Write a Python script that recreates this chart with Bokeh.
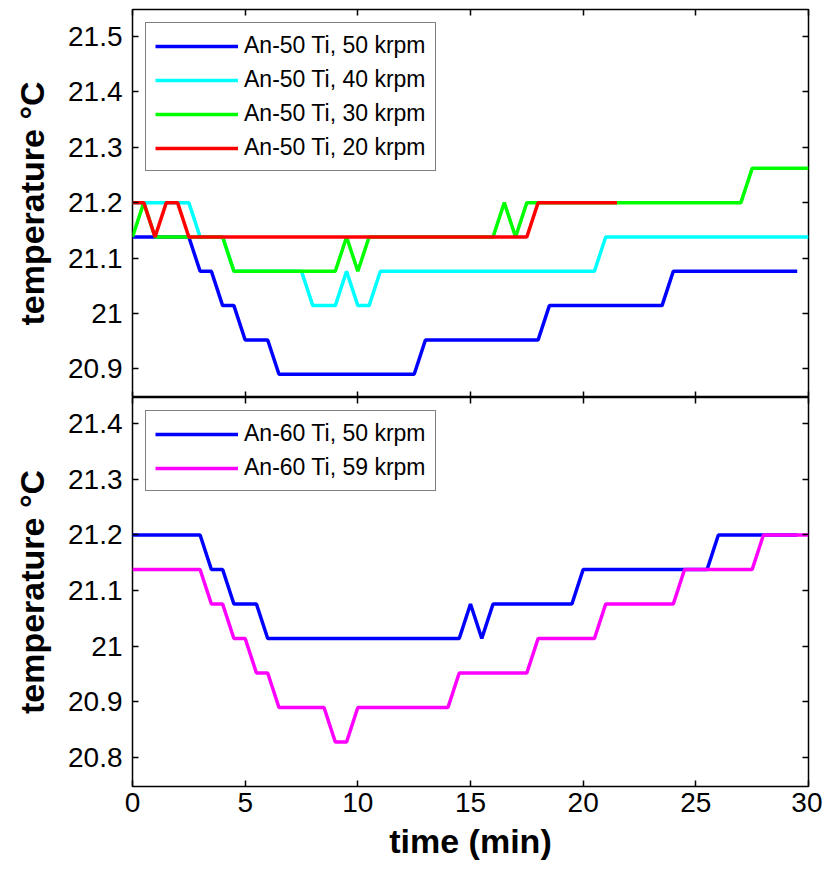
from bokeh.plotting import figure
from bokeh.layouts import column
from bokeh.models import (Range1d, LinearAxis, FixedTicker, CustomJSTickFormatter,
                          Legend, LegendItem)
from bokeh.embed import file_html
from bokeh.resources import INLINE

# ---------------- data ----------------
# top panel: An-50 Ti
an50_50k_t = [0, 2.5, 3, 3.5, 4, 4.5, 5, 6, 6.5, 12.5, 13, 18, 18.5, 23.5, 24, 29.5]
an50_50k_T = [21.138, 21.138, 21.076, 21.076, 21.014, 21.014, 20.952, 20.952, 20.89,
              20.89, 20.952, 20.952, 21.014, 21.014, 21.076, 21.076]

an50_40k_t = [0, 2.5, 3, 4, 4.5, 7.5, 8, 9, 9.5, 10, 10.5, 11, 20.5, 21, 30]
an50_40k_T = [21.2, 21.2, 21.138, 21.138, 21.076, 21.076, 21.014, 21.014, 21.076,
              21.014, 21.014, 21.076, 21.076, 21.138, 21.138]

an50_30k_t = [0, 0.5, 1, 4, 4.5, 9, 9.5, 10, 10.5, 16, 16.5, 17, 17.5, 27, 27.5, 30]
an50_30k_T = [21.138, 21.2, 21.138, 21.138, 21.076, 21.076, 21.138, 21.076, 21.138,
              21.138, 21.2, 21.138, 21.2, 21.2, 21.262, 21.262]

an50_20k_t = [0, 0.5, 1, 1.5, 2, 2.5, 17.5, 18, 21.5]
an50_20k_T = [21.2, 21.2, 21.138, 21.2, 21.2, 21.138, 21.138, 21.2, 21.2]

# bottom panel: An-60 Ti
an60_50k_t = [0, 3, 3.5, 4, 4.5, 5.5, 6, 14.5, 15, 15.5, 16, 19.5, 20, 25.5, 26, 29.5]
an60_50k_T = [21.2, 21.2, 21.138, 21.138, 21.076, 21.076, 21.014, 21.014, 21.076,
              21.014, 21.076, 21.076, 21.138, 21.138, 21.2, 21.2]

an60_59k_t = [0, 3, 3.5, 4, 4.5, 5, 5.5, 6, 6.5, 8.5, 9, 9.5, 10, 14, 14.5, 17.5, 18,
              20.5, 21, 24, 24.5, 27.5, 28, 30]
an60_59k_T = [21.138, 21.138, 21.076, 21.076, 21.014, 21.014, 20.952, 20.952, 20.89,
              20.89, 20.828, 20.828, 20.89, 20.89, 20.952, 20.952, 21.014, 21.014,
              21.076, 21.076, 21.138, 21.138, 21.2, 21.2]

top_labels = ["An-50 Ti, 50 krpm", "An-50 Ti, 40 krpm", "An-50 Ti, 30 krpm", "An-50 Ti, 20 krpm"]
bot_labels = ["An-60 Ti, 50 krpm", "An-60 Ti, 59 krpm"]

x_ticks = [0, 5, 10, 15, 20, 25, 30]
top_y_ticks = [20.9, 21.0, 21.1, 21.2, 21.3, 21.4, 21.5]
bot_y_ticks = [20.8, 20.9, 21.0, 21.1, 21.2, 21.3, 21.4]

x_label = "time (min)"
y_label = "temperature °C"

# ---------------- styling ----------------
FONT = "Liberation Sans"
TICK_FS = "28px"
LABEL_FS = "34px"
LEG_FS = "23px"

fmt_code = "return (Math.round(tick*10)/10).toString();"


def style_axis(ax, ticks, show_labels):
    ax.ticker = FixedTicker(ticks=ticks)
    ax.major_tick_in = 6
    ax.major_tick_out = 0
    ax.minor_tick_line_color = None
    ax.major_tick_line_color = "black"
    ax.major_tick_line_width = 1.5
    ax.axis_line_color = None
    if show_labels:
        ax.major_label_text_font = FONT
        ax.major_label_text_font_size = TICK_FS
        ax.major_label_text_color = "black"
        ax.major_label_standoff = 8
    else:
        ax.formatter = CustomJSTickFormatter(code="return '';")
        ax.major_label_text_font_size = "1px"
        ax.major_label_standoff = 0


def make_fig(yr, yticks, frame_h, top_border, bottom_border, show_x_labels):
    p = figure(x_range=Range1d(0, 30), y_range=Range1d(*yr),
               frame_width=676, frame_height=frame_h,
               min_border_left=132, min_border_right=14,
               min_border_top=top_border, min_border_bottom=bottom_border,
               output_backend="svg", toolbar_location=None)
    p.grid.visible = False
    p.outline_line_color = "black"
    p.outline_line_width = 1.5
    p.outline_line_alpha = 1.0
    p.background_fill_color = "white"
    p.border_fill_color = "white"

    xb = p.below[0]
    yl = p.left[0]

    style_axis(xb, x_ticks, show_x_labels)
    style_axis(yl, yticks, True)
    yl.formatter = CustomJSTickFormatter(code=fmt_code)
    yl.major_label_standoff = 10
    yl.axis_label = y_label
    yl.axis_label_text_font = FONT
    yl.axis_label_text_font_size = LABEL_FS
    yl.axis_label_text_font_style = "bold"
    yl.axis_label_text_color = "black"
    yl.axis_label_standoff = 14

    if show_x_labels:
        xb.axis_label = x_label
        xb.axis_label_text_font = FONT
        xb.axis_label_text_font_size = LABEL_FS
        xb.axis_label_text_font_style = "bold"
        xb.axis_label_text_color = "black"
        xb.axis_label_standoff = 7
        xb.major_label_standoff = 6

    top_ax = LinearAxis()
    style_axis(top_ax, x_ticks, False)
    p.add_layout(top_ax, "above")
    right_ax = LinearAxis()
    style_axis(right_ax, yticks, False)
    p.add_layout(right_ax, "right")
    return p


def add_legend(p, renderers, labels):
    items = [LegendItem(label=lab, renderers=[r]) for lab, r in zip(labels, renderers)]
    leg = Legend(items=items, location="top_left", margin=13, padding=9, spacing=7,
                 glyph_width=83, glyph_height=20, label_standoff=6, label_height=20,
                 label_text_font=FONT, label_text_font_size=LEG_FS,
                 label_text_color="black",
                 border_line_color="black", border_line_width=1.5,
                 background_fill_color="white", background_fill_alpha=1.0)
    p.add_layout(leg)


# ---------------- top panel ----------------
p1 = make_fig((20.848, 21.549), top_y_ticks, 388, 9, 0, False)
r1 = p1.line(an50_50k_t, an50_50k_T, line_color="#0000FF", line_width=3.5)
r2 = p1.line(an50_40k_t, an50_40k_T, line_color="#00FFFF", line_width=3.5)
r3 = p1.line(an50_30k_t, an50_30k_T, line_color="#00FF00", line_width=3.5)
r4 = p1.line(an50_20k_t, an50_20k_T, line_color="#FF0000", line_width=3.5)
add_legend(p1, [r1, r2, r3, r4], top_labels)

# ---------------- bottom panel ----------------
p2 = make_fig((20.748, 21.447), bot_y_ticks, 389, 0, 84, True)
s1 = p2.line(an60_50k_t, an60_50k_T, line_color="#0000FF", line_width=3.5)
s2 = p2.line(an60_59k_t, an60_59k_T, line_color="#FF00FF", line_width=3.5)
add_legend(p2, [s1, s2], bot_labels)

layout = column(p1, p2, spacing=0)

open("out.html", "w").write(file_html(layout, INLINE))
